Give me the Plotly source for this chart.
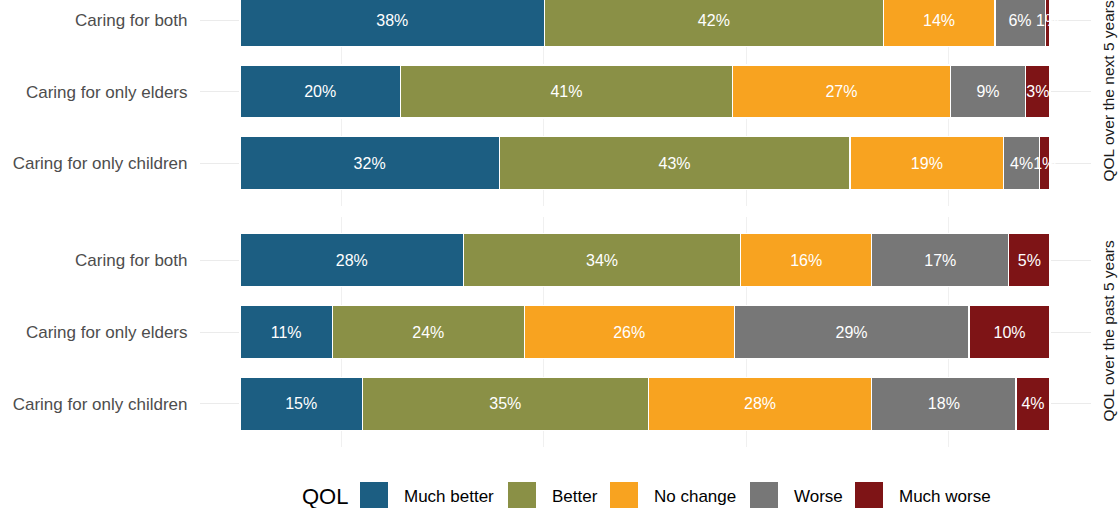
import plotly.graph_objects as go

W, H = 1118, 508

groups = ["Caring for only children", "Caring for only elders", "Caring for both"]
levels = ["Much better", "Better", "No change", "Worse", "Much worse"]
colors = ["#1C5E82", "#8A9046", "#F8A320", "#777777", "#7E1416"]

# percentages per level, order matches `groups`
next5 = {
    "Much better": [32.0, 19.8, 37.6],
    "Better":      [43.3, 41.0, 41.8],
    "No change":   [19.0, 26.9, 13.8],
    "Worse":       [4.4, 9.3, 6.2],
    "Much worse":  [1.3, 3.0, 0.6],
}
past5 = {
    "Much better": [15.1, 11.4, 27.6],
    "Better":      [35.3, 23.7, 34.2],
    "No change":   [27.6, 25.9, 16.2],
    "Worse":       [17.8, 29.0, 16.9],
    "Much worse":  [4.2, 10.0, 5.1],
}
panels = [("QOL over the next 5 years", next5, "x", "y"),
          ("QOL over the past 5 years", past5, "x2", "y2")]

FONT = "Liberation Sans, Arial, sans-serif"


def px_x(p):
    return p / W


def px_y(p):
    return 1 - p / H


fig = go.Figure()
for title, data, xa, ya in panels:
    for lvl, col in zip(levels, colors):
        vals = data[lvl]
        fig.add_trace(go.Bar(
            y=groups, x=vals, orientation="h", name=lvl,
            marker=dict(color=col, line=dict(color="white", width=1.2)),
            width=0.74,
            text=[f"{round(v)}%" for v in vals],
            textposition="inside", insidetextanchor="middle",
            constraintext="none", textangle=0,
            textfont=dict(color="white", size=16, family=FONT),
            xaxis=xa, yaxis=ya, showlegend=False,
            hovertemplate=f"{title}<br>%{{y}}<br>{lvl}: %{{x:.0f}}%<extra></extra>",
        ))

xdom = [px_x(199.5), px_x(1090.5)]
xcommon = dict(domain=xdom, range=[-5, 105], tickvals=[12.5, 37.5, 62.5, 87.5],
               showticklabels=False, showgrid=True, gridcolor="#F0F0F0", gridwidth=1,
               zeroline=False, showline=False, ticks="")
ycommon = dict(type="category", categoryorder="array", categoryarray=groups,
               showgrid=True, gridcolor="#EBEBEB", gridwidth=1.2, zeroline=False,
               showline=False, ticks="", ticklabelstandoff=11,
               tickfont=dict(size=17, color="#4D4D4D", family=FONT))

fig.update_layout(
    width=W, height=H, margin=dict(l=0, r=0, t=0, b=0),
    paper_bgcolor="white", plot_bgcolor="white",
    barmode="stack", bargap=0.26, showlegend=False,
    font=dict(family=FONT),
    xaxis=dict(anchor="y", **xcommon),
    xaxis2=dict(anchor="y2", **xcommon),
    yaxis=dict(anchor="x", domain=[px_y(206), 1], range=[-0.6, 2.28], **ycommon),
    yaxis2=dict(anchor="x2", domain=[px_y(447), px_y(217)], range=[-0.6, 2.6], **ycommon),
)

# strip labels
for (title, _, _, _), cy in zip(panels, [91.5, 331.5]):
    fig.add_annotation(text=title, x=px_x(1108), y=px_y(cy), xref="paper", yref="paper",
                       xanchor="center", yanchor="middle",
                       textangle=-90, showarrow=False,
                       font=dict(size=15.5, color="#1A1A1A", family=FONT))

# legend (drawn manually to match square keys)
fig.add_annotation(text="QOL", x=px_x(300), y=px_y(496), xref="paper", yref="paper",
                   xanchor="left", yanchor="middle", showarrow=False,
                   font=dict(size=22, color="#000000", family=FONT))
key_x = [360, 508, 610, 750, 855]
for kx, lvl, col in zip(key_x, levels, colors):
    fig.add_shape(type="rect", xref="paper", yref="paper",
                  x0=px_x(kx), x1=px_x(kx + 28), y0=px_y(510), y1=px_y(482),
                  fillcolor=col, line=dict(width=0))
    fig.add_annotation(text=lvl, x=px_x(kx + 42), y=px_y(496), xref="paper", yref="paper",
                       xanchor="left", yanchor="middle", showarrow=False,
                       font=dict(size=17, color="#000000", family=FONT))

fig.write_html("out.html", config={"displayModeBar": False},
               post_script="document.body.style.margin='0';")
